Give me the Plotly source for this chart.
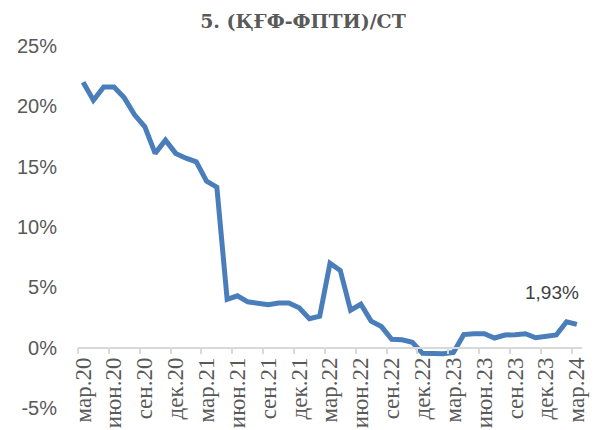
import plotly.graph_objects as go

months = ["мар.20","апр.20","май.20","июн.20","июл.20","авг.20","сен.20","окт.20","ноя.20","дек.20",
          "янв.21","фев.21","мар.21","апр.21","май.21","июн.21","июл.21","авг.21","сен.21","окт.21","ноя.21","дек.21",
          "янв.22","фев.22","мар.22","апр.22","май.22","июн.22","июл.22","авг.22","сен.22","окт.22","ноя.22","дек.22",
          "янв.23","фев.23","мар.23","апр.23","май.23","июн.23","июл.23","авг.23","сен.23","окт.23","ноя.23","дек.23",
          "янв.24","фев.24","мар.24"]
values = [22.0, 20.5, 21.6, 21.6, 20.7, 19.3, 18.3, 16.1, 17.2, 16.1,
          15.7, 15.4, 13.8, 13.3, 4.0, 4.3, 3.8, 3.65, 3.55, 3.7, 3.7, 3.3,
          2.4, 2.6, 7.0, 6.4, 3.1, 3.6, 2.2, 1.75, 0.7, 0.65, 0.45, -0.47,
          -0.5, -0.5, -0.4, 1.08, 1.15, 1.15, 0.8, 1.05, 1.08, 1.15, 0.82, 0.92,
          1.05, 2.15, 1.93]
tick_idx = list(range(0, len(months), 3))
tick_labels = [months[i] for i in tick_idx]
y_ticks = [-5, 0, 5, 10, 15, 20, 25]
y_labels = ["-5%", "0%", "5%", "10%", "15%", "20%", "25%"]
last_label = "1,93%"

x = list(range(len(months)))

W, H = 595, 422
ML, MR, MT, MB = 70, 21, 38, 22

fig = go.Figure()
fig.add_trace(go.Scatter(x=x, y=values, mode="lines",
                         line=dict(color="#4a7ebb", width=5),
                         hoverinfo="skip"))

fig.add_annotation(x=x[-1], y=values[-1], text=last_label, showarrow=False,
                   xanchor="center", yanchor="middle", xshift=-25, yshift=32,
                   font=dict(family="Liberation Sans", size=19, color="#404040"))

fig.update_layout(
    width=W, height=H,
    margin=dict(l=ML, r=MR, t=MT, b=MB),
    paper_bgcolor="white", plot_bgcolor="white",
    showlegend=False,
    title=dict(text="<b>5. (ҚҒФ-ФПТИ)/СТ</b>", x=(303 - 8) / W, xanchor="center",
               y=1 - 13 / H, yref="container", yanchor="middle",
               font=dict(family="DejaVu Serif", size=19, color="#595959")),
    xaxis=dict(range=[-0.5, len(months) - 0.5], tickmode="array",
               tickvals=tick_idx, ticktext=tick_labels, tickangle=-90,
               ticks="", showgrid=False, zeroline=False,
               showline=True, linecolor="#d9d9d9", linewidth=1.5,
               anchor="free", position=5 / 30,
               tickfont=dict(family="Liberation Serif", size=23, color="#595959"),
               minor=dict(tickmode="array",
                          tickvals=[i - 0.5 for i in range(0, len(months) + 1, 3)],
                          ticks="outside", ticklen=6, tickcolor="#d9d9d9", tickwidth=1.5,
                          showgrid=False),
               automargin=False),
    yaxis=dict(range=[-5, 25], tickmode="array", tickvals=y_ticks, ticktext=y_labels,
               showgrid=False, zeroline=False, showline=False, ticks="",
               ticklabelstandoff=20,
               tickfont=dict(family="Liberation Sans", size=20, color="#595959"),
               automargin=False),
)

fig.write_html("out.html")
